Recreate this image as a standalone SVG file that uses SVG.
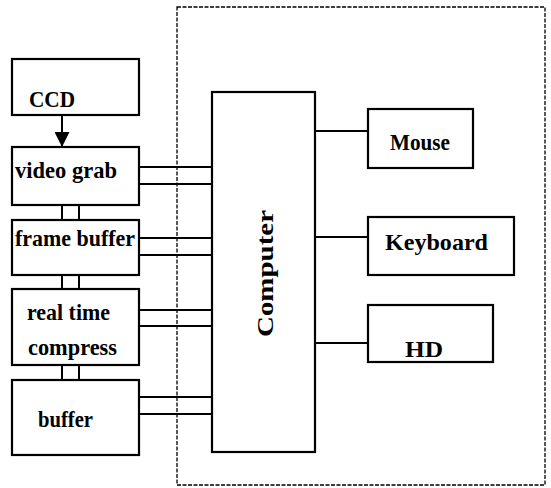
<svg xmlns="http://www.w3.org/2000/svg" width="551" height="488" viewBox="0 0 551 488">
<style>
.box{fill:#fff;stroke:#000;stroke-width:2.2}
.ln{stroke:#000;stroke-width:2;fill:none}
.t{font-family:"Liberation Serif","Times New Roman",serif;font-weight:bold;font-size:23px;fill:#000}
.dash{fill:none;stroke:#000;stroke-width:1.3;stroke-dasharray:4 1.5}
</style>
<defs>
<marker id="arr" viewBox="0 0 10 10" refX="10" refY="5" markerWidth="15" markerHeight="15" markerUnits="userSpaceOnUse" orient="auto">
<path d="M0,0 L10,5 L0,10 z" fill="#000"/>
</marker>
</defs>
<rect class="dash" x="177" y="7" width="368" height="478"/>
<g id="connectors">
<line class="ln" x1="62" y1="115" x2="62" y2="147" marker-end="url(#arr)"/>
<line class="ln" x1="62" y1="205" x2="62" y2="220"/>
<line class="ln" x1="79" y1="205" x2="79" y2="220"/>
<line class="ln" x1="62" y1="275" x2="62" y2="289"/>
<line class="ln" x1="79" y1="275" x2="79" y2="289"/>
<line class="ln" x1="62" y1="365" x2="62" y2="380"/>
<line class="ln" x1="79" y1="365" x2="79" y2="380"/>
<line class="ln" x1="139" y1="167" x2="212" y2="167"/>
<line class="ln" x1="139" y1="184" x2="212" y2="184"/>
<line class="ln" x1="139" y1="238" x2="212" y2="238"/>
<line class="ln" x1="139" y1="255" x2="212" y2="255"/>
<line class="ln" x1="139" y1="310" x2="212" y2="310"/>
<line class="ln" x1="139" y1="326" x2="212" y2="326"/>
<line class="ln" x1="139" y1="397" x2="212" y2="397"/>
<line class="ln" x1="139" y1="414" x2="212" y2="414"/>
<line class="ln" x1="315" y1="131" x2="368" y2="131"/>
<line class="ln" x1="315" y1="237" x2="368" y2="237"/>
<line class="ln" x1="315" y1="343" x2="368" y2="343"/>
</g>
<g id="ccd"><rect class="box" x="12" y="59" width="127" height="56"/><text class="t" x="29" y="107" textLength="46" lengthAdjust="spacingAndGlyphs">CCD</text></g>
<g id="videograb"><rect class="box" x="12" y="147" width="127" height="58"/><text class="t" x="15" y="178" textLength="102" lengthAdjust="spacingAndGlyphs">video grab</text></g>
<g id="framebuffer"><rect class="box" x="12" y="220" width="127" height="55"/><text class="t" x="15" y="246" textLength="120" lengthAdjust="spacingAndGlyphs">frame buffer</text></g>
<g id="realtime"><rect class="box" x="12" y="289" width="127" height="76"/><text class="t" x="27" y="320" textLength="83" lengthAdjust="spacingAndGlyphs">real time</text><text class="t" x="28" y="355" textLength="89" lengthAdjust="spacingAndGlyphs">compress</text></g>
<g id="buffer"><rect class="box" x="12" y="380" width="127" height="75"/><text class="t" x="38" y="427" textLength="55" lengthAdjust="spacingAndGlyphs">buffer</text></g>
<g id="computer"><rect class="box" x="212" y="92" width="103" height="360"/><text class="t" transform="translate(273,337) rotate(-90)" x="0" y="0" font-size="27" textLength="127" lengthAdjust="spacingAndGlyphs">Computer</text></g>
<g id="mouse"><rect class="box" x="368" y="109" width="105" height="59"/><text class="t" x="390" y="150" textLength="60" lengthAdjust="spacingAndGlyphs">Mouse</text></g>
<g id="keyboard"><rect class="box" x="368" y="217" width="146" height="58"/><text class="t" x="385" y="250" font-size="26" textLength="103" lengthAdjust="spacingAndGlyphs">Keyboard</text></g>
<g id="hd"><rect class="box" x="368" y="305" width="125" height="57"/><text class="t" x="405" y="357" font-size="27" textLength="38" lengthAdjust="spacingAndGlyphs">HD</text></g>
</svg>
